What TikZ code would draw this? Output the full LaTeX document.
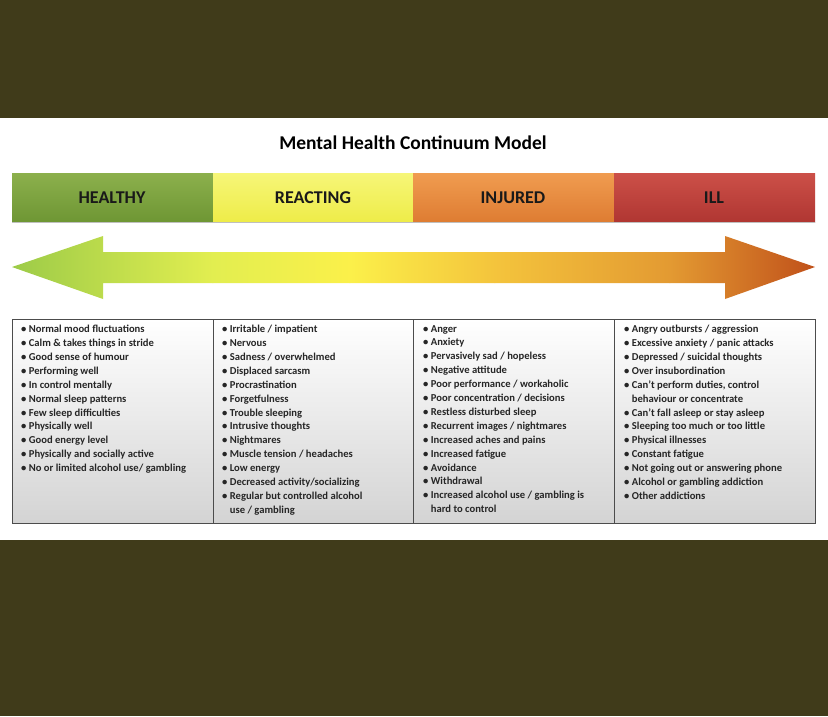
\documentclass[tikz,border=0pt]{standalone}
\usepackage{fontspec}
\setmainfont{Carlito}
\definecolor{agA}{HTML}{9CCB48}
\definecolor{agB}{HTML}{E2EE50}
\definecolor{agC}{HTML}{FBF04A}
\definecolor{agD}{HTML}{F4C43C}
\definecolor{agE}{HTML}{E39A32}
\definecolor{agF}{HTML}{C0501A}
\definecolor{olive}{HTML}{403B1A}
\tikzset{
  hdr/.style={font=\fontsize{18}{20}\selectfont\bfseries, text=black!90},
  cell/.style={draw=black!70, line width=0.8pt, top color=white, bottom color=black!17},
  lst/.style={anchor=north west, align=left, font=\fontsize{10.6}{13.9}\selectfont\bfseries, text=black!85, inner sep=0pt}
}
\begin{document}
\begin{tikzpicture}[x=1pt,y=-1pt]
\useasboundingbox (0,0) rectangle (828,716);
\fill[olive] (0,0) rectangle (828,118);
\fill[white] (0,118) rectangle (828,540);
\fill[olive] (0,540) rectangle (828,716);
\node[font=\fontsize{19.5}{22}\selectfont\bfseries] (title) at (413,143) {Mental Health Continuum Model};
% bars
\shade[top color={rgb,255:red,140;green,176;blue,76}, bottom color={rgb,255:red,110;green,150;blue,52}] (12,173) rectangle (213,222);
\shade[top color={rgb,255:red,246;green,246;blue,120}, bottom color={rgb,255:red,238;green,236;blue,72}] (213,173) rectangle (413,222);
\shade[top color={rgb,255:red,240;green,156;blue,80}, bottom color={rgb,255:red,222;green,124;blue,50}] (413,173) rectangle (614,222);
\shade[top color={rgb,255:red,204;green,80;blue,72}, bottom color={rgb,255:red,176;green,54;blue,50}] (614,173) rectangle (815,222);
\draw[black!25, line width=1.5pt] (12,222.5) -- (815,222.5);
\node[hdr] (h1) at (112,198) {HEALTHY};
\node[hdr] (h2) at (313,198) {REACTING};
\node[hdr] (h3) at (513,198) {INJURED};
\node[hdr] (h4) at (714,198) {ILL};
% arrow
\begin{scope}
\clip (12,267) -- (103,236) -- (103,252) -- (725,252) -- (725,236) -- (815,267) -- (725,299) -- (725,283) -- (103,283) -- (103,299) -- cycle;
\shade[left color=agA, right color=agB] (11,230) rectangle (213,305);
\shade[left color=agB, right color=agC] (212.5,230) rectangle (350,305);
\shade[left color=agC, right color=agD] (349.5,230) rectangle (495,305);
\shade[left color=agD, right color=agE] (494.5,230) rectangle (670,305);
\shade[left color=agE, right color=agF] (669.5,230) rectangle (816,305);
\end{scope}
% cells
\path[cell] (12,319) rectangle (213,523);
\path[cell] (213,319) rectangle (413,523);
\path[cell] (413,319) rectangle (614,523);
\path[cell] (614,319) rectangle (815,523);
\node[lst] (l1) at (21,325) {• Normal mood fluctuations\\• Calm \& takes things in stride\\• Good sense of humour\\• Performing well\\• In control mentally\\• Normal sleep patterns\\• Few sleep difficulties\\• Physically well\\• Good energy level\\• Physically and socially active\\• No or limited alcohol use/ gambling};
\node[lst] (l2) at (222,325) {• Irritable / impatient\\• Nervous\\• Sadness / overwhelmed\\• Displaced sarcasm\\• Procrastination\\• Forgetfulness\\• Trouble sleeping\\• Intrusive thoughts\\• Nightmares\\• Muscle tension / headaches\\• Low energy\\• Decreased activity/socializing\\• Regular but controlled alcohol\\\phantom{• }use / gambling};
\node[lst] (l3) at (423,325) {• Anger\\• Anxiety\\• Pervasively sad / hopeless\\• Negative attitude\\• Poor performance / workaholic\\• Poor concentration / decisions\\• Restless disturbed sleep\\• Recurrent images / nightmares\\• Increased aches and pains\\• Increased fatigue\\• Avoidance\\• Withdrawal\\• Increased alcohol use / gambling is\\\phantom{• }hard to control};
\node[lst] (l4) at (624,325) {• Angry outbursts / aggression\\• Excessive anxiety / panic attacks\\• Depressed / suicidal thoughts\\• Over insubordination\\• Can’t perform duties, control\\\phantom{• }behaviour or concentrate\\• Can’t fall asleep or stay asleep\\• Sleeping too much or too little\\• Physical illnesses\\• Constant fatigue\\• Not going out or answering phone\\• Alcohol or gambling addiction\\• Other addictions};
\end{tikzpicture}
\end{document}
